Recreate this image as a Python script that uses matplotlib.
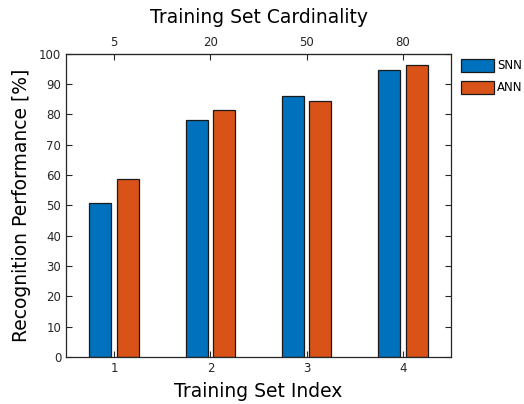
import matplotlib
matplotlib.use("Agg")
import matplotlib.pyplot as plt
import numpy as np

plt.rcParams['font.family'] = ['DejaVu Sans']

set_index = [1, 2, 3, 4]
cardinality = ['5', '20', '50', '80']
snn = [50.9, 78.0, 86.1, 94.5]
ann = [58.7, 81.3, 84.3, 96.4]
series_names = ['SNN', 'ANN']
colors = ['#0072BD', '#D95319']
yticks = list(range(0, 101, 10))

fig = plt.figure(figsize=(5.24, 4.04), dpi=100)
ax = fig.add_axes([0.126, 0.1163, 0.735, 0.751])

x = np.array(set_index, dtype=float)
offset = 1 / 7
width = 0.2286
ax.bar(x - offset, snn, width, color=colors[0], edgecolor='#1a1a1a', linewidth=0.9, label=series_names[0])
ax.bar(x + offset, ann, width, color=colors[1], edgecolor='#1a1a1a', linewidth=0.9, label=series_names[1])

ax.set_xlim(0.5, 4.5)
ax.set_ylim(0, 100)
ax.set_xticks(set_index)
ax.set_yticks(yticks)
axcol = '#262626'
ax.tick_params(direction='in', length=4, width=0.8, colors=axcol, labelsize=8.5,
               top=False, right=True, labelcolor=axcol)
for s in ax.spines.values():
    s.set_color(axcol)
    s.set_linewidth(0.9)

sec = ax.secondary_xaxis('top')
sec.set_xticks(set_index)
sec.set_xticklabels(cardinality)
sec.tick_params(direction='in', length=4, width=0.8, colors=axcol, labelsize=8.5)
sec.spines['top'].set_color(axcol)
sec.set_xlabel('Training Set Cardinality', fontsize=13.5, color='black', labelpad=9)

ax.set_xlabel('Training Set Index', fontsize=13.5, color='black', labelpad=5)
ax.set_ylabel('Recognition Performance [%]', fontsize=13.5, color='black', labelpad=6)

leg = ax.legend(loc='upper left', bbox_to_anchor=(461 / 524, 1 - 59 / 404),
                bbox_transform=fig.transFigure, frameon=False, borderpad=0,
                fontsize=8.5, handlelength=2.83, handleheight=1.3, handletextpad=0.2,
                labelspacing=0.72, borderaxespad=0)

fig.savefig('out.png', dpi=100)
